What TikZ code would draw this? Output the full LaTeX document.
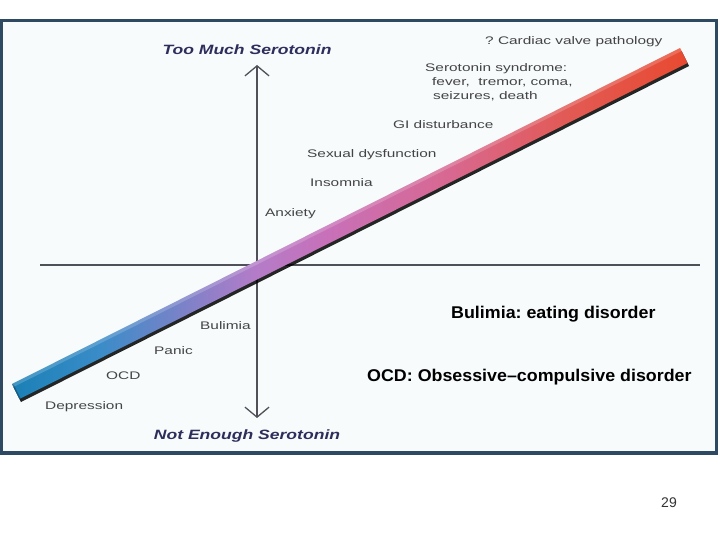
\documentclass[tikz,border=0pt]{standalone}
\usepackage{fontspec}
\setmainfont{Liberation Sans}
\newfontfamily\lblfont[FakeStretch=1.4]{Liberation Sans}
\newfontfamily\ttlfont[FakeStretch=1.3]{Liberation Sans}
\newfontfamily\notefont[FakeStretch=1.05]{Liberation Sans}
\usetikzlibrary{arrows.meta}
\frenchspacing
\definecolor{framec}{HTML}{2E4A62}
\definecolor{bgc}{HTML}{F7FBFC}
\definecolor{axisc}{HTML}{505058}
\definecolor{lblc}{HTML}{444444}
\definecolor{ttlc}{HTML}{2E2E5C}
\definecolor{b1}{HTML}{1A80B5}
\definecolor{b2}{HTML}{3A8CC8}
\definecolor{b3}{HTML}{8A80C8}
\definecolor{b4}{HTML}{B47CC8}
\definecolor{b5}{HTML}{C870B8}
\definecolor{b6}{HTML}{D86890}
\definecolor{b7}{HTML}{E25A55}
\definecolor{b8}{HTML}{E84A30}
\pgfdeclarehorizontalshading{barshade}{100bp}{color(0bp)=(b1); color(25bp)=(b1); color(31.5bp)=(b2); color(39bp)=(b3); color(43bp)=(b4); color(48.5bp)=(b5); color(57.5bp)=(b6); color(66bp)=(b7); color(75bp)=(b8); color(100bp)=(b8)}
\tikzset{
  lbl/.style={anchor=base west, inner sep=0pt, text=lblc, font=\lblfont\frenchspacing\fontsize{11}{13}\selectfont},
  ttl/.style={anchor=center, inner sep=0pt, text=ttlc, font=\ttlfont\bfseries\itshape\fontsize{13.5}{16}\selectfont},
  note/.style={anchor=base west, inner sep=0pt, text=black, font=\notefont\frenchspacing\bfseries\fontsize{17}{20}\selectfont},
  axisline/.style={draw=axisc, line width=1.3pt},
  axisarrow/.style={axisline, -{Straight Barb[length=10pt,width=24pt,line width=1.3pt]}}
}
\begin{document}
\begin{tikzpicture}[x=1pt,y=-1pt]
\useasboundingbox (0,0) rectangle (720,540);
\fill[white] (0,0) rectangle (720,540);
% frame
\draw[framec, line width=3pt, fill=bgc] (1.5,21) rectangle (716,452);
\fill[framec] (0,451) rectangle (717.5,455);
% axes
\coordinate (origin) at (257,265);
\coordinate (ytop) at (257,65);
\coordinate (ybot) at (257,418);
\coordinate (xleft) at (40,265);
\coordinate (xright) at (700,265);
\draw[axisarrow] (origin) -- (ytop);
\draw[axisarrow] (origin) -- (ybot);
\draw[axisline] (xleft) -- (xright);
% bar
\coordinate (A) at (12,384);
\coordinate (B) at (680,48);
\coordinate (C) at (687.5,63);
\coordinate (D) at (19.5,399);
\fill[black, opacity=0.85] ([shift={(1.5,3)}]A) -- ([shift={(1.5,3)}]B) -- ([shift={(1.5,3)}]C) -- ([shift={(1.5,3)}]D) -- cycle;
\shade[shading=barshade] (A) -- (B) -- (C) -- (D) -- cycle;
\fill[white, opacity=0.18] (A) -- (B) -- ([shift={(1.5,3)}]B) -- ([shift={(1.5,3)}]A) -- cycle;
\fill[black, opacity=0.25] (A) -- ([shift={(2,1)}]A) -- ([shift={(2,1)}]D) -- (D) -- cycle;
% titles
\node[ttl] (too) at (247,50) {Too Much Serotonin};
\node[ttl] (notenough) at (247,436) {Not Enough Serotonin};
% labels
\node[lbl] (cardiac) at (485,45) {? Cardiac valve pathology};
\node[lbl] (ss1) at (425,72) {Serotonin syndrome:};
\node[lbl] (ss2) at (432,86) {fever,\ \ tremor, coma,};
\node[lbl] (ss3) at (433,100) {seizures, death};
\node[lbl] (gi) at (393,129) {GI disturbance};
\node[lbl] (sex) at (307,158) {Sexual dysfunction};
\node[lbl] (ins) at (310,187) {Insomnia};
\node[lbl] (anx) at (265,216) {Anxiety};
\node[lbl] (bul) at (200,329) {Bulimia};
\node[lbl] (pan) at (154,354) {Panic};
\node[lbl] (ocd) at (106,379) {OCD};
\node[lbl] (dep) at (45,409) {Depression};
% notes
\node[note] (bulnote) at (451,318) {Bulimia: eating disorder};
\node[note] (ocdnote) at (367,381) {OCD: Obsessive–compulsive disorder};
\node[anchor=center, inner sep=0pt, text=black!80, font=\fontsize{14}{16}\selectfont] (page) at (669,503) {29};
\end{tikzpicture}
\end{document}
